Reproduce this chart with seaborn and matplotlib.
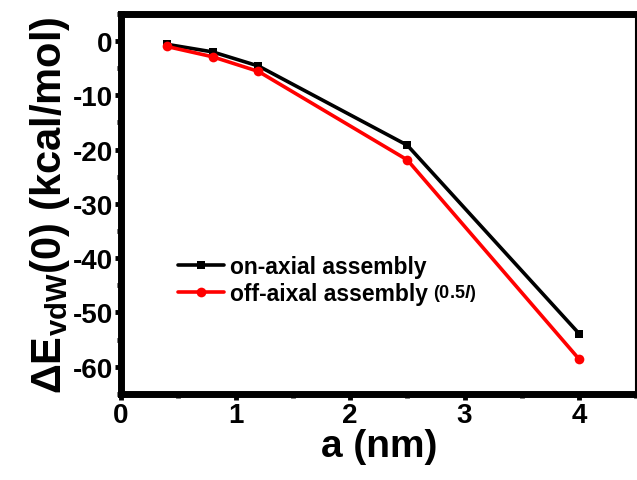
import matplotlib
matplotlib.use('Agg')
import matplotlib.pyplot as plt
import pandas as pd
import seaborn as sns
from matplotlib.ticker import MultipleLocator

# data
a_nm = [0.4, 0.8, 1.2, 2.5, 4.0]
on_axial = [-0.6, -2.0, -4.6, -19.2, -53.9]
off_axial = [-1.0, -2.9, -5.6, -21.9, -58.6]
series_labels = ['on-axial assembly', 'off-aixal assembly']
x_ticks = [0, 1, 2, 3, 4]
y_ticks = [0, -10, -20, -30, -40, -50, -60]

sns.set_style('ticks')
plt.rcParams['font.family'] = ['Liberation Sans', 'DejaVu Sans']
plt.rcParams['font.weight'] = 'bold'
plt.rcParams['axes.unicode_minus'] = False
plt.rcParams['text.color'] = 'black'
plt.rcParams['axes.labelcolor'] = 'black'
plt.rcParams['xtick.color'] = 'black'
plt.rcParams['ytick.color'] = 'black'
plt.rcParams['axes.edgecolor'] = 'black'
plt.rcParams['mathtext.fontset'] = 'custom'
plt.rcParams['mathtext.rm'] = 'Liberation Sans:bold'
plt.rcParams['mathtext.bf'] = 'Liberation Sans:bold'
plt.rcParams['mathtext.it'] = 'Liberation Sans:bold:italic'

df_on = pd.DataFrame({'a': a_nm, 'E': on_axial})
df_off = pd.DataFrame({'a': a_nm, 'E': off_axial})

fig = plt.figure(figsize=(6.37, 4.81), dpi=100)
ax = fig.add_axes([0.19, 0.179, 0.809, 0.79])

sns.lineplot(data=df_on, x='a', y='E', color='black', marker='s', markersize=5.5,
             markeredgewidth=0, linewidth=2.6, label=series_labels[0], ax=ax)
sns.lineplot(data=df_off, x='a', y='E', color='red', marker='o', markersize=7,
             markeredgewidth=0, linewidth=2.6, label=series_labels[1], ax=ax)

ax.set_xlim(0, 4.5)
ax.set_ylim(-65, 5)
ax.set_xticks(x_ticks)
ax.set_yticks(y_ticks)
ax.xaxis.set_minor_locator(MultipleLocator(0.5))
ax.yaxis.set_minor_locator(MultipleLocator(5))
ax.tick_params(which='major', direction='out', length=4, width=3.5, labelsize=20, pad=2)
ax.tick_params(which='minor', direction='out', length=3, width=3.5)

for side in ['left', 'bottom', 'top']:
    ax.spines[side].set_linewidth(5)
ax.spines['right'].set_linewidth(1.5)

ax.set_xlabel('a (nm)', fontsize=28, fontweight='bold', labelpad=0)
ax.set_ylabel('ΔE$_{\\mathregular{vdW}}$(0) (kcal/mol)', fontsize=30, fontweight='bold', labelpad=0)

leg = ax.legend(loc='center left', bbox_to_anchor=(0.11, 0.30), frameon=False,
                fontsize=16.5, borderpad=0, borderaxespad=0, handlelength=2.0,
                handletextpad=0.3, labelspacing=0.2)
fig.canvas.draw()
# smaller "(0.5l)" suffix after the second legend entry
ax.annotate('(0.5$\\mathit{l}$)', xy=(1, 0), xycoords=leg.get_texts()[1],
            xytext=(3, 1.5), textcoords='offset points', fontsize=13,
            fontweight='bold', va='bottom', ha='left', zorder=10)

fig.savefig('out.png', dpi=100)
